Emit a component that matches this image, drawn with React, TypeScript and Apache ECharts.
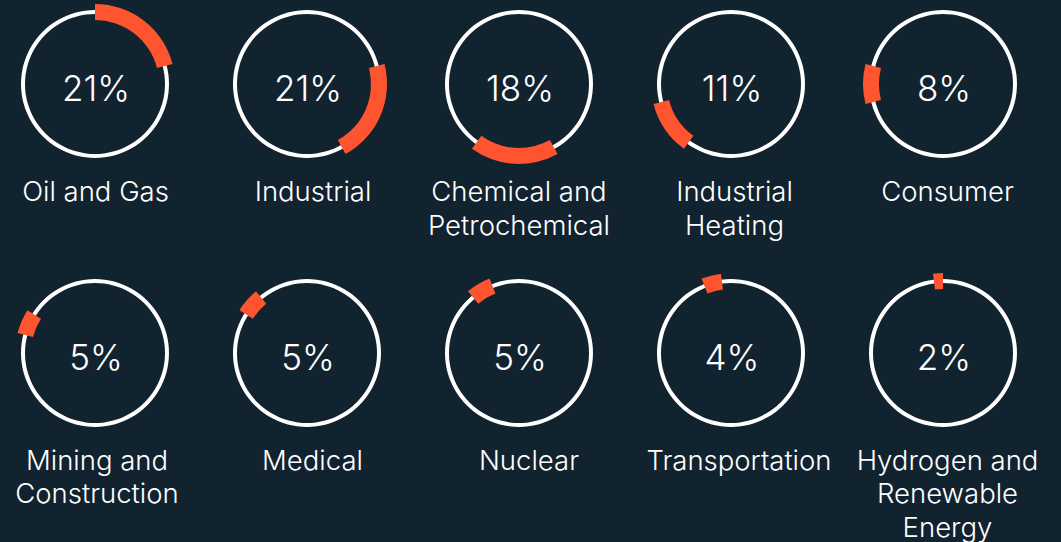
import React, { useEffect, useRef } from "react";
import * as echarts from "echarts";

const CATEGORIES = [
  "Oil and Gas",
  "Industrial",
  "Chemical and\nPetrochemical",
  "Industrial\nHeating",
  "Consumer",
  "Mining and\nConstruction",
  "Medical",
  "Nuclear",
  "Transportation",
  "Hydrogen and\nRenewable\nEnergy",
];
const SHARES = [21, 21, 18, 11, 8, 5, 5, 5, 4, 2];

// layout
const COL_X = [95, 307, 519, 731, 943];
const ROW_Y = [84, 353];
const LABEL_Y = [191.5, 460];
const LABEL_DX = [0.5, 6, 0, 3.5, 4.5, 2, 5.5, 10, 8, 4.5];
const BG = "#11232F";
const ACCENT = "#FF5430";
const FONT = "Inter";

export default function App() {
  const ref = useRef<HTMLDivElement>(null);
  useEffect(() => {
    document.body.style.margin = "0";
    const chart = echarts.init(ref.current!, null, { renderer: "svg" });
    const series: any[] = [];
    const graphics: any[] = [];
    let before = 0;
    SHARES.forEach((share, i) => {
      const cx = COL_X[i % 5];
      const cy = ROW_Y[Math.floor(i / 5)];
      series.push({
        type: "pie",
        silent: true,
        center: [cx, cy],
        radius: [70, 74],
        label: { show: false },
        labelLine: { show: false },
        itemStyle: { borderWidth: 0 },
        data: [{ value: 1, itemStyle: { color: "#FFFFFF" } }],
        z: 1,
      });
      series.push({
        type: "pie",
        silent: true,
        center: [cx, cy],
        radius: [64, 80],
        startAngle: 90,
        clockwise: true,
        minAngle: 0,
        stillShowZeroSum: true,
        label: { show: false },
        labelLine: { show: false },
        itemStyle: { borderWidth: 0 },
        data: [
          { value: before, itemStyle: { color: "rgba(0,0,0,0)" } },
          { value: share, itemStyle: { color: ACCENT } },
          { value: 100 - before - share, itemStyle: { color: "rgba(0,0,0,0)" } },
        ],
        z: 2,
      });
      before += share;
      graphics.push({
        type: "text",
        x: cx + 1,
        y: cy + 3.5,
        style: {
          text: `${share}%`,
          fill: "#FFFFFF",
          font: `300 35px ${FONT}`,
          textAlign: "center",
          textVerticalAlign: "middle",
        },
      });
      graphics.push({
        type: "text",
        x: cx + LABEL_DX[i],
        y: LABEL_Y[Math.floor(i / 5)] - 17,
        style: {
          text: CATEGORIES[i],
          fill: "#FFFFFF",
          font: `300 27.5px ${FONT}`,
          lineHeight: 33.5,
          textAlign: "center",
          textVerticalAlign: "top",
        },
      });
    });
    chart.setOption({
      animation: false,
      backgroundColor: BG,
      series,
      graphic: graphics,
    });
    return () => chart.dispose();
  }, []);
  return (
    <div
      ref={ref}
      style={{ position: "fixed", left: 0, top: 0, width: 1061, height: 542 }}
    />
  );
}
